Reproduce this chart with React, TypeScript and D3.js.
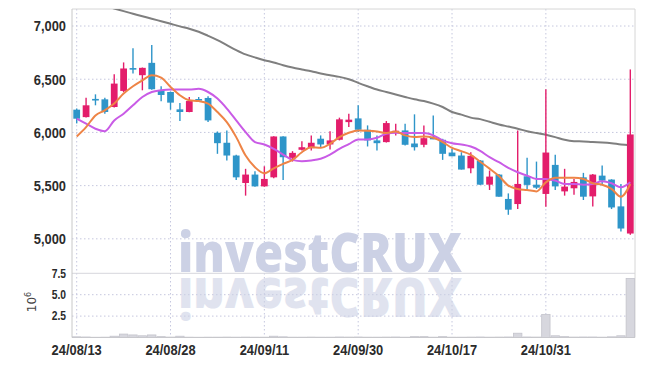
import React from "react";
import * as d3 from "d3";

const dates = [
  "24/08/13","24/08/14","24/08/16","24/08/19","24/08/20","24/08/21","24/08/22","24/08/23","24/08/26","24/08/27",
  "24/08/28","24/08/29","24/08/30","24/09/02","24/09/03","24/09/04","24/09/05","24/09/06","24/09/09","24/09/10",
  "24/09/11","24/09/12","24/09/13","24/09/19","24/09/20","24/09/23","24/09/24","24/09/25","24/09/26","24/09/27",
  "24/09/30","24/10/02","24/10/04","24/10/07","24/10/08","24/10/10","24/10/11","24/10/14","24/10/15","24/10/16",
  "24/10/17","24/10/18","24/10/21","24/10/22","24/10/23","24/10/24","24/10/25","24/10/28","24/10/29","24/10/30",
  "24/10/31","24/11/01","24/11/04","24/11/05","24/11/06","24/11/07","24/11/08","24/11/11","24/11/12","24/11/13",
];
const openP = [6214,6144,6315,6311,6239,6390,6605,6538,6654,6396,6380,6217,6192,6314,6324,5997,5903,5783,5525,5604,5493,5578,5962,5761,5837,5852,5941,5887,5931,6097,6132,6025,5925,5909,5994,6019,5896,5884,5950,5931,5811,5783,5663,5736,5509,5604,5375,5327,5588,5509,5422,5695,5446,5475,5578,5399,5594,5557,5305,5050];
const highP = [6225,6327,6358,6327,6547,6658,6790,6610,6821,6434,6385,6276,6333,6333,6340,6009,6019,5790,5658,5635,5682,5965,5965,5824,5918,5972,5972,6012,6139,6176,6255,6066,5972,6107,6082,6082,6170,6066,6160,5940,5846,5814,5814,5740,5642,5610,5427,6019,5761,5726,6406,5790,5658,5563,5620,5610,5689,5560,5516,6592];
const lowP = [6085,6140,6255,6176,6235,6380,6554,6396,6400,6292,6214,6107,6190,6295,6097,5799,5736,5554,5406,5490,5490,5570,5554,5726,5830,5830,5861,5840,5925,6050,6003,5868,5830,5905,5972,5877,5830,5861,5935,5742,5776,5651,5616,5505,5459,5396,5226,5280,5469,5469,5302,5459,5406,5415,5365,5305,5516,5280,5069,5038];
const closeP = [6129,6255,6308,6192,6459,6601,6598,6607,6406,6352,6280,6192,6295,6308,6113,5899,5783,5578,5604,5493,5563,5962,5767,5808,5861,5903,5887,5925,6123,6120,6025,5925,5899,6088,6016,5884,5861,5946,5937,5799,5776,5651,5780,5509,5585,5396,5274,5516,5507,5481,5811,5493,5491,5535,5396,5604,5547,5295,5097,5981];
const ma5 = [5962,6050,6160,6208,6271,6365,6434,6490,6538,6516,6427,6349,6302,6295,6271,6192,6097,5956,5783,5673,5616,5663,5705,5742,5814,5861,5855,5893,5956,5997,6019,6016,6009,5994,6009,5972,5956,5962,5950,5909,5855,5824,5790,5725,5660,5590,5500,5469,5459,5446,5531,5573,5573,5573,5563,5522,5509,5469,5396,5516];
const ma10 = [6129,6082,6035,6012,6113,6176,6255,6333,6380,6396,6403,6403,6403,6410,6380,6318,6224,6113,6003,5909,5887,5846,5792,5742,5729,5736,5752,5792,5846,5890,5934,5934,5950,5988,5997,5994,5994,5994,5972,5925,5899,5887,5868,5827,5767,5720,5667,5626,5594,5563,5563,5547,5516,5516,5509,5516,5541,5522,5484,5531];
const ma60 = [7262,7238,7213,7189,7165,7140,7116,7092,7069,7045,7021,6997,6974,6946,6908,6868,6821,6774,6733,6705,6679,6658,6632,6610,6592,6575,6554,6538,6522,6500,6466,6434,6403,6380,6356,6333,6311,6295,6271,6239,6192,6167,6139,6125,6100,6075,6055,6035,6012,5994,5978,5956,5931,5918,5915,5909,5906,5899,5887,5880];
const volume = [80000,60000,30000,40000,150000,400000,300000,200000,300000,100000,50000,150000,40000,30000,40000,40000,50000,40000,50000,40000,40000,150000,80000,40000,40000,50000,40000,40000,60000,50000,60000,40000,40000,50000,60000,40000,100000,100000,40000,100000,40000,40000,50000,60000,40000,50000,60000,500000,60000,50000,2700000,200000,100000,50000,60000,60000,40000,80000,200000,6900000];
const priceTicks = [5000, 5500, 6000, 6500, 7000];
const volTicks = [2.5, 5.0, 7.5];
const xTickLabels = ["24/08/13", "24/08/28", "24/09/11", "24/09/30", "24/10/17", "24/10/31"];

const W = 645, H = 366;
const left = 72, right = 635, top = 9, mainBottom = 273, volBottom = 337.5;
const UP = "#e31d6b", DOWN = "#2e95c9";
const FONT = "'Liberation Sans', Arial, sans-serif";

export default function App() {
  const x = d3.scaleBand<string>().domain(dates).range([left, right]).paddingInner(0.28).paddingOuter(0.14);
  const step = x.step();
  const cx = (i: number) => (x(dates[i]) as number) + x.bandwidth() / 2;
  const y = d3.scaleLinear().domain([4679, 7160]).range([mainBottom, top]);
  const yv = d3.scaleLinear().domain([0, 7.5e6]).range([volBottom, 273.3]);
  const line = (arr: number[]) =>
    d3.line<number>().x((_, i) => cx(i)).y((v) => y(v)).curve(d3.curveMonotoneX)(arr) || "";
  const grid = "#c5c7de";
  const bw = x.bandwidth();

  return (
    <svg width={W} height={H} style={{ position: "absolute", left: 0, top: 0, background: "#fff" }}>
      <defs>
        <clipPath id="mainClip"><rect x={left} y={top} width={right - left} height={mainBottom - top} /></clipPath>
        <clipPath id="volClip"><rect x={left} y={mainBottom} width={right - left} height={volBottom - mainBottom} /></clipPath>
      </defs>
      {/* grid */}
      {priceTicks.map((t) => (
        <line key={"gy" + t} x1={left} x2={right} y1={y(t)} y2={y(t)} stroke={grid} strokeDasharray="1.5,2.5" />
      ))}
      {volTicks.slice(0, 2).map((t) => (
        <line key={"gv" + t} x1={left} x2={right} y1={yv(t * 1e6)} y2={yv(t * 1e6)} stroke={grid} strokeDasharray="1.5,2.5" />
      ))}
      {xTickLabels.map((d) => (
        <line key={"gx" + d} x1={cx(dates.indexOf(d))} x2={cx(dates.indexOf(d))} y1={top} y2={volBottom} stroke={grid} strokeDasharray="1.5,2.5" />
      ))}
      {/* watermark */}
      <g fontFamily="'Open Sans', sans-serif" fontWeight={800} fontSize={54} fill="#ccd1e5">
        <text x={178} y={272} textLength={284} lengthAdjust="spacingAndGlyphs">investCRUX</text>
        <g transform="translate(0,550) scale(1,-1)" opacity={0.6}>
          <text x={178} y={272} textLength={284} lengthAdjust="spacingAndGlyphs">investCRUX</text>
        </g>
      </g>
      {/* borders */}
      <line x1={left} x2={right} y1={top} y2={top} stroke="#d6d6d6" />
      <line x1={left} x2={right} y1={273.3} y2={273.3} stroke="#d6d6dc" />
      <line x1={right} x2={right} y1={top} y2={volBottom} stroke="#d6d6d6" />
      <line x1={left} x2={left} y1={top} y2={volBottom} stroke="#c8c8c8" />
      <line x1={left} x2={right} y1={volBottom} y2={volBottom} stroke="#c8c8c8" />
      {/* volume */}
      <g clipPath="url(#volClip)">
        {volume.map((v, i) => (
          <rect key={"v" + i} x={cx(i) - step / 2 + 0.5} width={step - 1} y={yv(v)} height={volBottom - yv(v)} fill="#d7d7de" stroke="#c4c4cc" strokeWidth={0.8} />
        ))}
      </g>
      {/* MAs + candles */}
      <g clipPath="url(#mainClip)">
        <path d={line(ma60)} fill="none" stroke="#7f7f7f" strokeWidth={2} />
        {dates.map((d, i) => {
          const up = closeP[i] >= openP[i];
          const c = up ? UP : DOWN;
          const yt = y(Math.max(openP[i], closeP[i]));
          const yb = y(Math.min(openP[i], closeP[i]));
          return (
            <g key={"c" + i}>
              <line x1={cx(i)} x2={cx(i)} y1={y(highP[i])} y2={y(lowP[i])} stroke={c} strokeWidth={1.4} />
              <rect x={cx(i) - bw / 2} width={bw} y={yt} height={Math.max(1.6, yb - yt)} fill={c} />
            </g>
          );
        })}
        <path d={line(ma10)} fill="none" stroke="#c95be6" strokeWidth={2} />
        <path d={line(ma5)} fill="none" stroke="#ee8446" strokeWidth={2} />
      </g>
      {/* axis labels */}
      <g fontFamily={FONT} fontWeight="bold" fill="#2b2b2b">
        {priceTicks.map((t) => (
          <text key={"yl" + t} transform={`translate(66,${y(t)}) scale(0.86,1)`} dy="0.36em" fontSize={15} textAnchor="end">{d3.format(",")(t)}</text>
        ))}
        {volTicks.map((t) => (
          <text key={"vl" + t} transform={`translate(66,${yv(t * 1e6)}) scale(0.86,1)`} dy="0.36em" fontSize={12} textAnchor="end">{t.toFixed(1)}</text>
        ))}
        {xTickLabels.map((d) => (
          <text key={"xl" + d} transform={`translate(${cx(dates.indexOf(d))},355) scale(0.86,1)`} fontSize={15} textAnchor="middle">{d}</text>
        ))}
      </g>
      <text transform="translate(36,302) rotate(-90)" fontFamily="'DejaVu Sans', sans-serif" fontSize={12} fill="#444" textAnchor="middle">
        10<tspan dy={-5} fontSize={8}>6</tspan>
      </text>
    </svg>
  );
}
